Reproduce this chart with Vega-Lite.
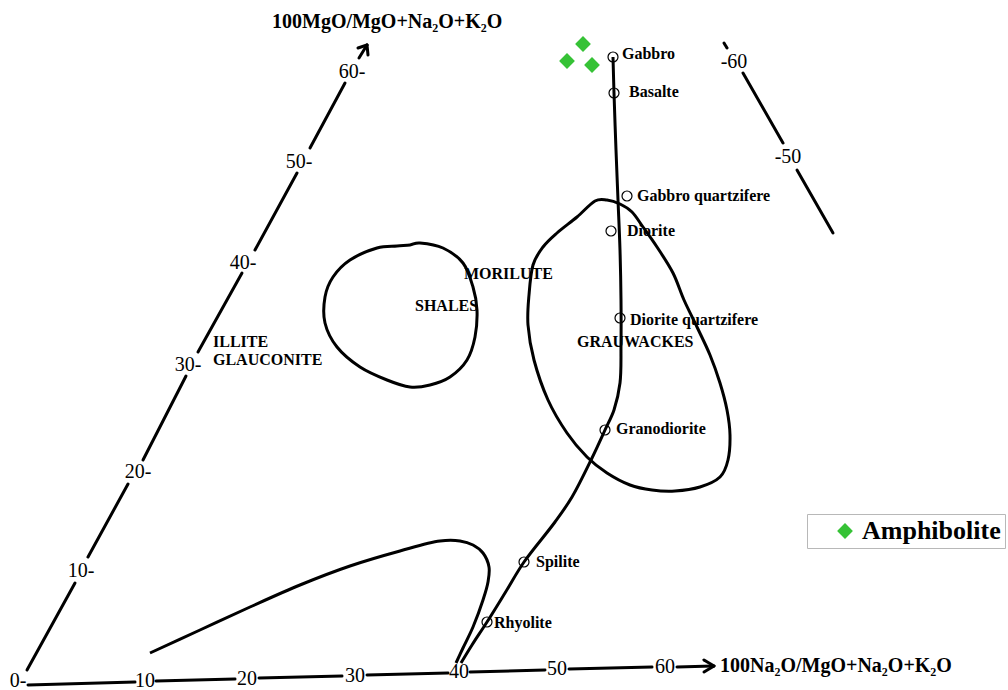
{
  "$schema": "https://vega.github.io/schema/vega-lite/v6.json",
  "width": 1008,
  "height": 690,
  "padding": 0,
  "autosize": {"type": "none"},
  "background": "white",
  "config": {"view": {"stroke": null}},
  "datasets": {
    "segs": [
      {"x": 27, "y": 670, "x2": 75, "y2": 583},
      {"x": 88, "y": 557, "x2": 128, "y2": 484},
      {"x": 143, "y": 460, "x2": 186, "y2": 376},
      {"x": 198, "y": 352, "x2": 242, "y2": 273},
      {"x": 255, "y": 250, "x2": 297, "y2": 173},
      {"x": 310, "y": 148, "x2": 345, "y2": 83},
      {"x": 359, "y": 58, "x2": 367, "y2": 45},
      {"x": 367, "y": 45, "x2": 358, "y2": 48},
      {"x": 367, "y": 45, "x2": 368, "y2": 55},
      {"x": 28, "y": 685, "x2": 135, "y2": 682},
      {"x": 156, "y": 681, "x2": 235, "y2": 679},
      {"x": 259, "y": 678, "x2": 342, "y2": 676},
      {"x": 367, "y": 675, "x2": 448, "y2": 673},
      {"x": 470, "y": 672, "x2": 545, "y2": 670},
      {"x": 569, "y": 669, "x2": 652, "y2": 667},
      {"x": 677, "y": 667, "x2": 713, "y2": 666},
      {"x": 704, "y": 660, "x2": 714, "y2": 666},
      {"x": 704, "y": 672, "x2": 714, "y2": 666},
      {"x": 724, "y": 43, "x2": 727, "y2": 48},
      {"x": 743, "y": 73, "x2": 783, "y2": 143},
      {"x": 797, "y": 170, "x2": 833, "y2": 233}
    ],
    "curves": [
      {"id": "wedge", "i": 1, "x": 150, "y": 653},
      {"id": "wedge", "i": 2, "x": 200, "y": 630},
      {"id": "wedge", "i": 3, "x": 250, "y": 607},
      {"id": "wedge", "i": 4, "x": 300, "y": 585},
      {"id": "wedge", "i": 5, "x": 350, "y": 566},
      {"id": "wedge", "i": 6, "x": 400, "y": 551},
      {"id": "wedge", "i": 7, "x": 440, "y": 541},
      {"id": "wedge", "i": 8, "x": 460, "y": 541},
      {"id": "wedge", "i": 9, "x": 473, "y": 545},
      {"id": "wedge", "i": 10, "x": 483, "y": 553},
      {"id": "wedge", "i": 11, "x": 489, "y": 567},
      {"id": "wedge", "i": 12, "x": 488, "y": 582},
      {"id": "wedge", "i": 13, "x": 483, "y": 600},
      {"id": "wedge", "i": 14, "x": 473, "y": 627},
      {"id": "wedge", "i": 15, "x": 463, "y": 648},
      {"id": "wedge", "i": 16, "x": 456, "y": 663},
      {"id": "trend", "i": 1, "x": 613, "y": 57},
      {"id": "trend", "i": 2, "x": 614, "y": 93},
      {"id": "trend", "i": 3, "x": 616, "y": 150},
      {"id": "trend", "i": 4, "x": 618, "y": 200},
      {"id": "trend", "i": 5, "x": 620, "y": 250},
      {"id": "trend", "i": 6, "x": 621, "y": 300},
      {"id": "trend", "i": 7, "x": 621, "y": 345},
      {"id": "trend", "i": 8, "x": 620, "y": 383},
      {"id": "trend", "i": 9, "x": 614, "y": 410},
      {"id": "trend", "i": 10, "x": 605, "y": 430},
      {"id": "trend", "i": 11, "x": 592, "y": 458},
      {"id": "trend", "i": 12, "x": 572, "y": 497},
      {"id": "trend", "i": 13, "x": 555, "y": 522},
      {"id": "trend", "i": 14, "x": 524, "y": 562},
      {"id": "trend", "i": 15, "x": 505, "y": 593},
      {"id": "trend", "i": 16, "x": 487, "y": 622},
      {"id": "trend", "i": 17, "x": 472, "y": 645},
      {"id": "trend", "i": 18, "x": 461, "y": 663}
    ],
    "blobs": [
      {"id": "shales", "i": 1, "x": 410, "y": 245},
      {"id": "shales", "i": 2, "x": 420, "y": 243},
      {"id": "shales", "i": 3, "x": 443, "y": 248},
      {"id": "shales", "i": 4, "x": 463, "y": 263},
      {"id": "shales", "i": 5, "x": 473, "y": 287},
      {"id": "shales", "i": 6, "x": 477, "y": 310},
      {"id": "shales", "i": 7, "x": 475, "y": 337},
      {"id": "shales", "i": 8, "x": 467, "y": 360},
      {"id": "shales", "i": 9, "x": 450, "y": 377},
      {"id": "shales", "i": 10, "x": 430, "y": 385},
      {"id": "shales", "i": 11, "x": 410, "y": 387},
      {"id": "shales", "i": 12, "x": 387, "y": 380},
      {"id": "shales", "i": 13, "x": 360, "y": 367},
      {"id": "shales", "i": 14, "x": 337, "y": 347},
      {"id": "shales", "i": 15, "x": 325, "y": 323},
      {"id": "shales", "i": 16, "x": 325, "y": 297},
      {"id": "shales", "i": 17, "x": 333, "y": 277},
      {"id": "shales", "i": 18, "x": 350, "y": 260},
      {"id": "shales", "i": 19, "x": 377, "y": 248},
      {"id": "shales", "i": 20, "x": 397, "y": 246},
      {"id": "grau", "i": 1, "x": 595, "y": 201},
      {"id": "grau", "i": 2, "x": 607, "y": 200},
      {"id": "grau", "i": 3, "x": 620, "y": 204},
      {"id": "grau", "i": 4, "x": 632, "y": 212},
      {"id": "grau", "i": 5, "x": 643, "y": 227},
      {"id": "grau", "i": 6, "x": 657, "y": 247},
      {"id": "grau", "i": 7, "x": 673, "y": 273},
      {"id": "grau", "i": 8, "x": 684, "y": 300},
      {"id": "grau", "i": 9, "x": 697, "y": 327},
      {"id": "grau", "i": 10, "x": 710, "y": 355},
      {"id": "grau", "i": 11, "x": 720, "y": 383},
      {"id": "grau", "i": 12, "x": 727, "y": 410},
      {"id": "grau", "i": 13, "x": 730, "y": 435},
      {"id": "grau", "i": 14, "x": 728, "y": 460},
      {"id": "grau", "i": 15, "x": 720, "y": 477},
      {"id": "grau", "i": 16, "x": 700, "y": 487},
      {"id": "grau", "i": 17, "x": 675, "y": 491},
      {"id": "grau", "i": 18, "x": 652, "y": 490},
      {"id": "grau", "i": 19, "x": 630, "y": 485},
      {"id": "grau", "i": 20, "x": 607, "y": 473},
      {"id": "grau", "i": 21, "x": 587, "y": 457},
      {"id": "grau", "i": 22, "x": 567, "y": 433},
      {"id": "grau", "i": 23, "x": 548, "y": 400},
      {"id": "grau", "i": 24, "x": 534, "y": 360},
      {"id": "grau", "i": 25, "x": 528, "y": 325},
      {"id": "grau", "i": 26, "x": 529, "y": 295},
      {"id": "grau", "i": 27, "x": 533, "y": 265},
      {"id": "grau", "i": 28, "x": 543, "y": 247},
      {"id": "grau", "i": 29, "x": 557, "y": 233},
      {"id": "grau", "i": 30, "x": 577, "y": 217}
    ],
    "rocks": [
      {"name": "Gabbro", "x": 613, "y": 57},
      {"name": "Basalte", "x": 614, "y": 93},
      {"name": "Gabbro quartzifere", "x": 627, "y": 196},
      {"name": "Diorite", "x": 611, "y": 231},
      {"name": "Diorite quartzifere", "x": 620, "y": 318},
      {"name": "Granodiorite", "x": 605, "y": 430},
      {"name": "Spilite", "x": 524, "y": 562},
      {"name": "Rhyolite", "x": 487, "y": 622}
    ],
    "rockLabels": [
      {"text": "Gabbro", "x": 622, "y": 54},
      {"text": "Basalte", "x": 629, "y": 92},
      {"text": "Gabbro quartzifere", "x": 637, "y": 196},
      {"text": "Diorite", "x": 627, "y": 231},
      {"text": "Diorite quartzifere", "x": 630, "y": 320},
      {"text": "Granodiorite", "x": 616, "y": 429},
      {"text": "Spilite", "x": 536, "y": 562},
      {"text": "Rhyolite", "x": 494, "y": 623},
      {"text": "MORILUTE", "x": 464, "y": 274},
      {"text": "SHALES", "x": 415, "y": 306},
      {"text": "GRAUWACKES", "x": 577, "y": 342},
      {"text": "ILLITE", "x": 213, "y": 342},
      {"text": "GLAUCONITE", "x": 213, "y": 360}
    ],
    "ticks": [
      {"text": "0-", "x": 18, "y": 681},
      {"text": "10-", "x": 81, "y": 571},
      {"text": "20-", "x": 138, "y": 472},
      {"text": "30-", "x": 188, "y": 365},
      {"text": "40-", "x": 243, "y": 263},
      {"text": "50-", "x": 299, "y": 162},
      {"text": "60-", "x": 352, "y": 72},
      {"text": "10", "x": 145, "y": 681},
      {"text": "20", "x": 247, "y": 679},
      {"text": "30", "x": 355, "y": 676},
      {"text": "40", "x": 459, "y": 672},
      {"text": "50", "x": 557, "y": 669},
      {"text": "60", "x": 665, "y": 667},
      {"text": "-60", "x": 734, "y": 62},
      {"text": "-50", "x": 788, "y": 157}
    ],
    "titles": [
      {"text": "100MgO/MgO+Na₂O+K₂O", "x": 272, "y": 22},
      {"text": "100Na₂O/MgO+Na₂O+K₂O", "x": 720, "y": 666}
    ],
    "amph": [
      {"type": "Amphibolite", "x": 583, "y": 44},
      {"type": "Amphibolite", "x": 567, "y": 61},
      {"type": "Amphibolite", "x": 592, "y": 65}
    ]
  },
  "layer": [
    {
      "data": {"name": "segs"},
      "mark": {"type": "rule", "color": "black", "strokeWidth": 3, "strokeCap": "round"},
      "encoding": {
        "x": {"field": "x", "type": "quantitative", "scale": {"domain": [0, 1008], "nice": false, "zero": false}, "axis": null},
        "y": {"field": "y", "type": "quantitative", "scale": {"domain": [0, 690], "reverse": true, "nice": false, "zero": false}, "axis": null},
        "x2": {"field": "x2"},
        "y2": {"field": "y2"}
      }
    },
    {
      "data": {"name": "curves"},
      "mark": {"type": "line", "color": "black", "strokeWidth": 3, "interpolate": "catmull-rom"},
      "encoding": {
        "x": {"field": "x", "type": "quantitative", "scale": {"domain": [0, 1008], "nice": false, "zero": false}, "axis": null},
        "y": {"field": "y", "type": "quantitative", "scale": {"domain": [0, 690], "reverse": true, "nice": false, "zero": false}, "axis": null},
        "detail": {"field": "id"},
        "order": {"field": "i", "type": "quantitative"}
      }
    },
    {
      "data": {"name": "blobs"},
      "mark": {"type": "line", "color": "black", "strokeWidth": 3, "interpolate": "cardinal-closed"},
      "encoding": {
        "x": {"field": "x", "type": "quantitative", "scale": {"domain": [0, 1008], "nice": false, "zero": false}, "axis": null},
        "y": {"field": "y", "type": "quantitative", "scale": {"domain": [0, 690], "reverse": true, "nice": false, "zero": false}, "axis": null},
        "detail": {"field": "id"},
        "order": {"field": "i", "type": "quantitative"}
      }
    },
    {
      "data": {"name": "rocks"},
      "mark": {"type": "point", "shape": "circle", "filled": false, "stroke": "black", "strokeWidth": 1.2, "size": 100, "opacity": 1},
      "encoding": {
        "x": {"field": "x", "type": "quantitative", "axis": null},
        "y": {"field": "y", "type": "quantitative", "axis": null}
      }
    },
    {
      "data": {"name": "rockLabels"},
      "mark": {"type": "text", "align": "left", "baseline": "middle", "font": "Liberation Serif", "fontSize": 16, "fontWeight": "bold", "color": "black"},
      "encoding": {
        "x": {"field": "x", "type": "quantitative", "axis": null},
        "y": {"field": "y", "type": "quantitative", "axis": null},
        "text": {"field": "text"}
      }
    },
    {
      "data": {"name": "ticks"},
      "mark": {"type": "text", "align": "center", "baseline": "middle", "font": "Liberation Serif", "fontSize": 20, "color": "black"},
      "encoding": {
        "x": {"field": "x", "type": "quantitative", "axis": null},
        "y": {"field": "y", "type": "quantitative", "axis": null},
        "text": {"field": "text"}
      }
    },
    {
      "data": {"name": "titles"},
      "mark": {"type": "text", "align": "left", "baseline": "middle", "font": "Liberation Serif", "fontSize": 20, "fontWeight": "bold", "color": "black"},
      "encoding": {
        "x": {"field": "x", "type": "quantitative", "axis": null},
        "y": {"field": "y", "type": "quantitative", "axis": null},
        "text": {"field": "text"}
      }
    },
    {
      "data": {"name": "amph"},
      "mark": {"type": "point", "shape": "diamond", "filled": true, "size": 250, "opacity": 1},
      "encoding": {
        "x": {"field": "x", "type": "quantitative", "axis": null},
        "y": {"field": "y", "type": "quantitative", "axis": null},
        "color": {
          "field": "type",
          "type": "nominal",
          "scale": {"range": ["#36c236"]},
          "legend": {
            "orient": "none",
            "legendX": 807,
            "legendY": 514,
            "title": null,
            "strokeColor": "#b8b8b8",
            "fillColor": "white",
            "padding": 4,
            "symbolType": "diamond",
            "symbolSize": 250,
            "symbolOffset": 21,
            "symbolStrokeWidth": 0,
            "labelOffset": 4,
            "labelFont": "Liberation Serif",
            "labelFontSize": 26,
            "labelFontWeight": "bold",
            "labelColor": "black",
            "labelLimit": 400
          }
        }
      }
    }
  ]
}
